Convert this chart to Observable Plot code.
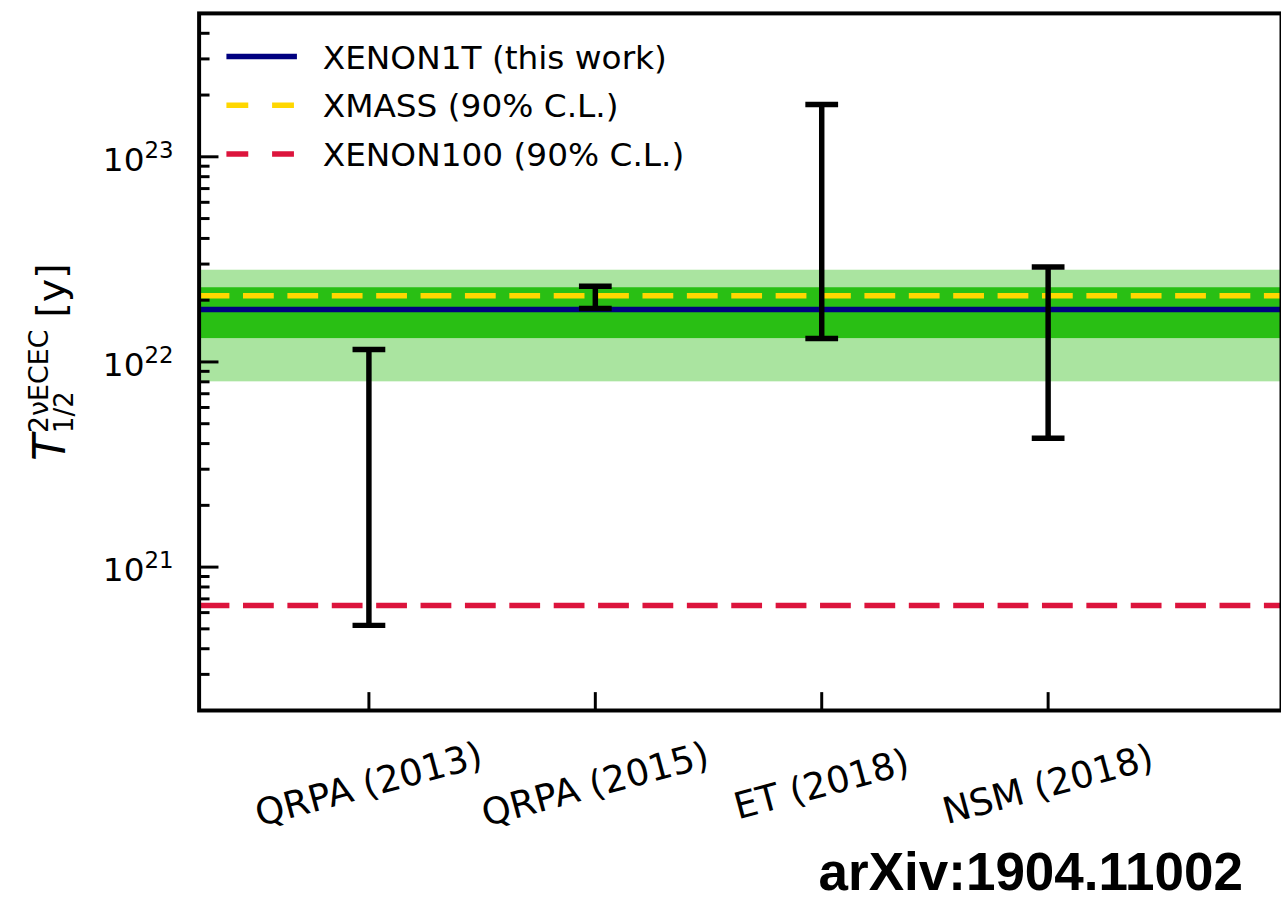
<!DOCTYPE html>
<html>
<head>
<meta charset="utf-8">
<script src="https://cdn.jsdelivr.net/npm/d3@7"></script>
<script src="https://cdn.jsdelivr.net/npm/@observablehq/plot@0.6"></script>
<style>
  html, body { margin: 0; padding: 0; background: #fff; overflow: hidden; }
  #wrap { position: relative; width: 1281px; height: 906px; overflow: hidden; }
  #caption {
    position: absolute; right: 38px; top: 845px;
    font-family: "Liberation Sans", Arial, sans-serif; font-weight: bold;
    font-size: 53px; line-height: 1; color: #000; white-space: nowrap;
  }
</style>
</head>
<body>
<div id="wrap"><div id="chart"></div><div id="caption">arXiv:1904.11002</div></div>
<script>
// Theoretical predictions for the 2νECEC half-life of 124Xe (error bars)
const models = ["QRPA (2013)", "QRPA (2015)", "ET (2018)", "NSM (2018)"];
const lower = [5.2e20, 1.82e22, 1.3e22, 4.25e21];
const upper = [1.15e22, 2.34e22, 1.8e23, 2.9e22];

// XENON1T measurement and its uncertainty bands
const xenon1t = 1.8e22;
const innerBand = [1.3e22, 2.3e22];
const outerBand = [0.8e22, 2.8e22];

// Earlier 90% C.L. lower limits
const xmassLimit = 2.1e22;
const xenon100Limit = 6.5e20;

// Axis range and ticks
const yDomain = [2e20, 5e23];
const majorTicks = [1e21, 1e22, 1e23];
const minorTicks = [];
for (let e = 20; e <= 23; e++) {
  for (let m = 2; m <= 9; m++) {
    const v = m * 10 ** e;
    if (v > yDomain[0] && v < yDomain[1]) minorTicks.push(v);
  }
}

// Legend entries
const legendLabels = ["XENON1T (this work)", "XMASS (90% C.L.)", "XENON100 (90% C.L.)"];

const navy = "#000080", gold = "#FFD700", crimson = "#DC143C";
const legendStyles = [
  {stroke: navy, dash: null},
  {stroke: gold, dash: "22,24"},
  {stroke: crimson, dash: "22,24"}
];

// horizontal error-bar cap drawn as a dot symbol (half-length = r)
const capSymbol = {
  draw(context, size) {
    const r = Math.sqrt(size / Math.PI);
    context.moveTo(-r, 0);
    context.lineTo(r, 0);
  }
};

const rows = models.map((model, i) => ({model, lo: lower[i], hi: upper[i]}));
const font = "DejaVu Sans";

const svg = Plot.plot({
  width: 1290,
  height: 840,
  marginLeft: 200,
  marginRight: 0,
  marginTop: 13,
  marginBottom: 125,
  style: {fontFamily: font, background: "white", color: "black"},
  x: {type: "point", domain: models, range: [371, 1055], padding: 0},
  y: {type: "log", domain: yDomain},
  marks: [
    Plot.rect([outerBand], {y1: (d) => d[0], y2: (d) => d[1], fill: "#aae4a0"}),
    Plot.rect([innerBand], {y1: (d) => d[0], y2: (d) => d[1], fill: "#29bf14"}),
    Plot.ruleY([xenon100Limit], {stroke: crimson, strokeWidth: 5.5, strokeDasharray: "31,13.7"}),
    Plot.ruleY([xmassLimit], {stroke: gold, strokeWidth: 5.5, strokeDasharray: "31,13.7"}),
    Plot.ruleY([xenon1t], {stroke: navy, strokeWidth: 5.5}),
    Plot.ruleX(rows, {x: "model", y1: "lo", y2: "hi", stroke: "black", strokeWidth: 5.5}),
    Plot.dot(rows, {x: "model", y: "lo", symbol: capSymbol, r: 16.5, stroke: "black", fill: "none", strokeWidth: 5.5}),
    Plot.dot(rows, {x: "model", y: "hi", symbol: capSymbol, r: 16.5, stroke: "black", fill: "none", strokeWidth: 5.5}),
    Plot.frame({stroke: "black", strokeWidth: 4}),
    // inward ticks
    Plot.axisY(majorTicks, {tickSize: -20, strokeWidth: 3, tickFormat: () => "", label: null}),
    Plot.axisY(minorTicks, {tickSize: -11, strokeWidth: 3, tickFormat: () => "", label: null}),
    Plot.axisX(models, {tickSize: -18, strokeWidth: 3, tickFormat: () => "", label: null}),
    // y tick labels: 10 with exponent
    Plot.text(majorTicks, {y: (d) => d, text: () => "10", frameAnchor: "left", textAnchor: "end",
      lineAnchor: "bottom", dx: -55, dy: 14.4, fontSize: 33, fill: "black"}),
    Plot.text(majorTicks, {y: (d) => d, text: (d) => String(Math.round(Math.log10(d))), frameAnchor: "left",
      textAnchor: "start", lineAnchor: "bottom", dx: -55, dy: 1, fontSize: 23, fill: "black"}),
    // rotated category labels
    Plot.text(models, {x: (d) => d, frameAnchor: "bottom", dy: 75, rotate: -15, textAnchor: "middle",
      lineAnchor: "middle", fontSize: 37, fill: "black"})
  ]
});

document.getElementById("chart").appendChild(svg);

const root = d3.select(svg);

// Legend in the upper-left corner of the frame
const leg = root.append("g").attr("font-family", font).attr("font-size", 33).attr("text-anchor", "start");
legendLabels.forEach((label, i) => {
  const cy = 57 + i * 49;
  const st = legendStyles[i];
  leg.append("line")
    .attr("x1", 228).attr("x2", 299).attr("y1", cy).attr("y2", cy)
    .attr("stroke", st.stroke).attr("stroke-width", 5.5)
    .attr("stroke-dasharray", st.dash);
  leg.append("text").attr("x", 325).attr("y", cy + 12).attr("fill", "black").text(label);
});

// Y axis title: T^{2νECEC}_{1/2} [y]
const yt = root.append("g").attr("transform", "translate(65,364) rotate(-90)")
  .attr("font-family", font).attr("fill", "black").attr("text-anchor", "start");
yt.append("text").attr("x", -100).attr("y", 0).attr("font-size", 44).attr("font-style", "italic").text("T");
yt.append("text").attr("x", -72).attr("y", -17).attr("font-size", 27).text("2νECEC");
yt.append("text").attr("x", -72).attr("y", 8).attr("font-size", 26).text("1/2");
yt.append("text").attr("x", 44).attr("y", 0).attr("font-size", 40).text("[y]");
</script>
</body>
</html>
